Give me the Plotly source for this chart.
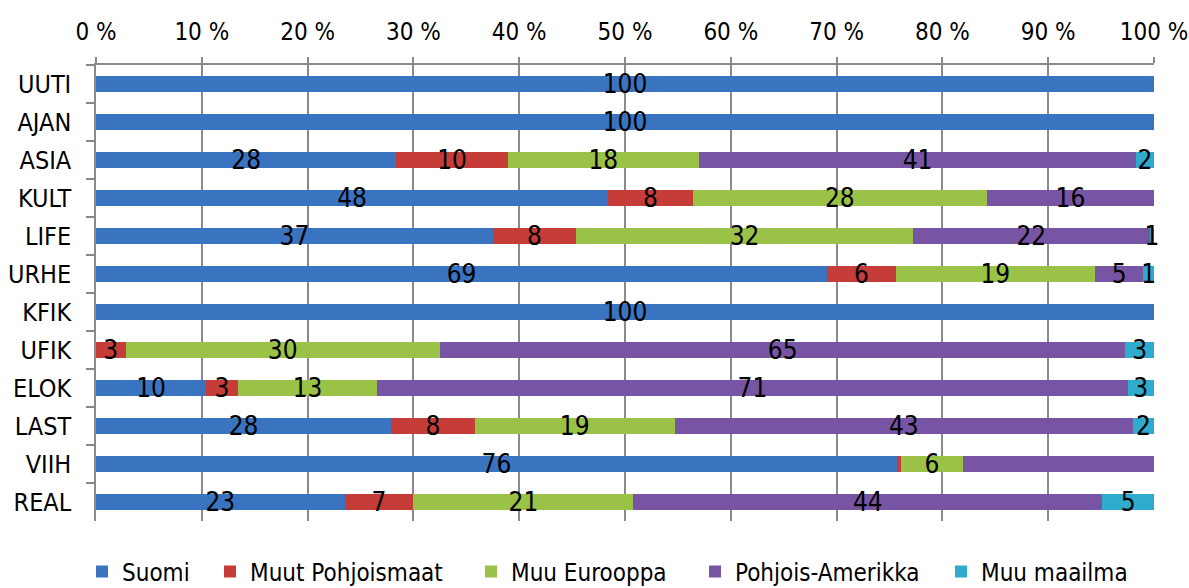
import plotly.graph_objects as go

categories = ["UUTI", "AJAN", "ASIA", "KULT", "LIFE", "URHE", "KFIK", "UFIK", "ELOK", "LAST", "VIIH", "REAL"]

suomi = [100, 100, 28.4, 48.4, 37.5, 69.1, 100, 0, 10.4, 27.9, 75.7, 23.5]
muut_pohjoismaat = [0, 0, 10.5, 8.0, 7.9, 6.5, 0, 2.8, 3.0, 7.9, 0.4, 6.5]
muu_eurooppa = [0, 0, 18.1, 27.8, 31.8, 18.8, 0, 29.7, 13.2, 18.9, 5.8, 20.8]
pohjois_amerikka = [0, 0, 41.3, 15.8, 22.4, 4.6, 0, 64.8, 70.9, 43.3, 18.1, 44.3]
muu_maailma = [0, 0, 1.7, 0, 0.4, 1.0, 0, 2.7, 2.5, 2.0, 0, 4.9]

suomi_labels = ["100", "100", "28", "48", "37", "69", "100", "", "10", "28", "76", "23"]
muut_pohjoismaat_labels = ["", "", "10", "8", "8", "6", "", "3", "3", "8", "", "7"]
muu_eurooppa_labels = ["", "", "18", "28", "32", "19", "", "30", "13", "19", "6", "21"]
pohjois_amerikka_labels = ["", "", "41", "16", "22", "5", "", "65", "71", "43", "", "44"]
muu_maailma_labels = ["", "", "2", "", "1", "1", "", "3", "3", "2", "", "5"]

tick_vals = [0, 10, 20, 30, 40, 50, 60, 70, 80, 90, 100]
tick_text = ["0 %", "10 %", "20 %", "30 %", "40 %", "50 %", "60 %", "70 %", "80 %", "90 %", "100 %"]

series = [
    ("Suomi", suomi, suomi_labels, "#3a74c0"),
    ("Muut Pohjoismaat", muut_pohjoismaat, muut_pohjoismaat_labels, "#c63c38"),
    ("Muu Eurooppa", muu_eurooppa, muu_eurooppa_labels, "#9ac247"),
    ("Pohjois-Amerikka", pohjois_amerikka, pohjois_amerikka_labels, "#7855a4"),
    ("Muu maailma", muu_maailma, muu_maailma_labels, "#2eabcd"),
]

# legend entry positions (container fraction of width)
legend_x = [82 / 1189, 210 / 1189, 471 / 1189, 695 / 1189, 941 / 1189]

FONT = "DejaVu Sans Condensed, DejaVu Sans, sans-serif"

fig = go.Figure()
for i, (name, vals, labels, color) in enumerate(series):
    lg = "legend" if i == 0 else f"legend{i + 1}"
    fig.add_trace(go.Bar(
        y=categories, x=vals, name=name, orientation="h",
        marker=dict(color=color, line=dict(width=0)),
        text=labels, textposition="inside", insidetextanchor="middle",
        constraintext="none", textangle=0,
        textfont=dict(family=FONT, size=26, color="black"),
        cliponaxis=False, legend=lg,
    ))

legend_common = dict(
    orientation="h", xref="container", yref="container",
    xanchor="left", yanchor="middle", y=1 - 572 / 588,
    font=dict(family=FONT, size=24, color="black"),
    itemwidth=30, bgcolor="rgba(0,0,0,0)", borderwidth=0,
)

layout_legends = {}
for i in range(len(series)):
    key = "legend" if i == 0 else f"legend{i + 1}"
    layout_legends[key] = dict(legend_common, x=legend_x[i])

fig.update_layout(
    barmode="stack", barnorm="percent", bargap=0.58,
    width=1189, height=588,
    paper_bgcolor="white", plot_bgcolor="white",
    margin=dict(l=96, r=35, t=65, b=67, autoexpand=False),
    font=dict(family=FONT, size=24, color="black"),
    showlegend=True,
    **layout_legends,
)
fig.update_xaxes(
    side="top", range=[-0.0001, 100.0001], tickvals=tick_vals, ticktext=tick_text,
    showgrid=True, gridcolor="#8a8a8a", gridwidth=1.5,
    showline=True, linecolor="#8a8a8a", linewidth=1.5,
    ticks="outside", ticklen=6, tickcolor="#8a8a8a", tickwidth=1.5,
    ticklabelstandoff=8, zeroline=False, automargin=False,
    ticklabeloverflow="allow",
    tickfont=dict(family=FONT, size=24, color="black"),
)
fig.update_yaxes(
    autorange="reversed", type="category",
    showline=True, linecolor="#8a8a8a", linewidth=1.5,
    ticks="outside", ticklen=8, tickcolor="#8a8a8a", tickwidth=1.5,
    tickson="boundaries", showgrid=False,
    ticklabelstandoff=18, automargin=False,
    tickfont=dict(family=FONT, size=25, color="black"),
)

fig.write_html(
    "out.html",
    config={"displayModeBar": False},
    post_script="document.body.style.margin='0px';document.body.style.overflow='hidden';",
)
